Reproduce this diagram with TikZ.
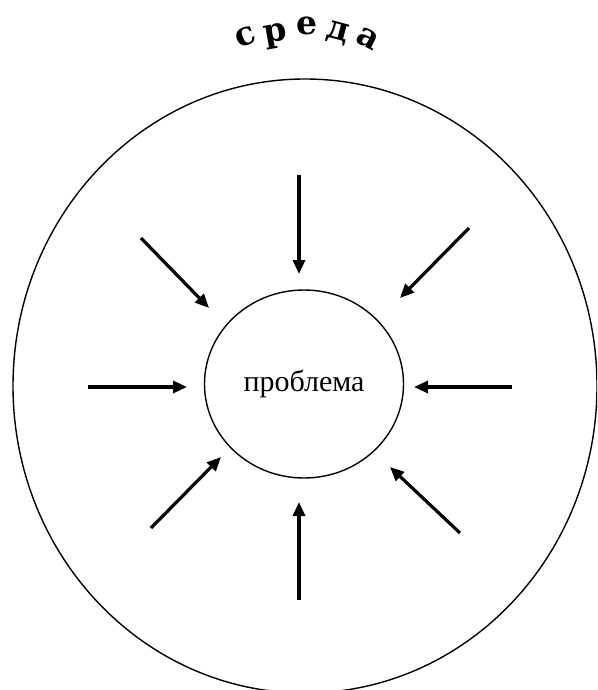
\documentclass[tikz,border=0pt]{standalone}
\usepackage{fontspec}
\setmainfont{Liberation Serif}
\newfontfamily\titlefont{DejaVu Serif}
\usetikzlibrary{arrows.meta,shapes.geometric}
\begin{document}
\begin{tikzpicture}[x=1pt,y=-1pt,
  ring/.style={draw,line width=1.4pt},
  force/.style={line width=3.2pt,-{Triangle[length=14pt,width=12pt]}},
  letter/.style={font=\titlefont\bfseries\fontsize{33}{33}\selectfont,inner sep=0pt}]
\useasboundingbox (0,0) rectangle (597,690);
\clip (0,0) rectangle (597,690);
% environment
\node[ring,ellipse,minimum width=584pt,minimum height=614pt,inner sep=0pt] (env) at (305,386) {};
% problem
\node[ring,ellipse,minimum width=199pt,minimum height=188pt,inner sep=0pt,
  font=\fontsize{30}{30}\selectfont] (prob) at (304,384) {проблема};
% title letters
\node[letter,rotate=22] (l1) at (246,37) {с};
\node[letter,rotate=10] (l2) at (276,36) {р};
\node[letter,rotate=0] (l3) at (307,26) {е};
\node[letter,rotate=-15] (l4) at (338,33) {д};
\node[letter,rotate=-27] (l5) at (368,39) {а};
% arrows
\coordinate (s1) at (141,238); \coordinate (t1) at (209,308);
\coordinate (s2) at (299,175); \coordinate (t2) at (299,274);
\coordinate (s3) at (469,228); \coordinate (t3) at (400,298);
\coordinate (s4) at (88,387);  \coordinate (t4) at (187,387);
\coordinate (s5) at (512,387); \coordinate (t5) at (414,387);
\coordinate (s6) at (151,528); \coordinate (t6) at (221,457);
\coordinate (s7) at (299,600); \coordinate (t7) at (299,502);
\coordinate (s8) at (460,533); \coordinate (t8) at (390,467);
\foreach \i in {1,...,8} {\draw[force] (s\i) -- (t\i);}
\end{tikzpicture}
\end{document}
